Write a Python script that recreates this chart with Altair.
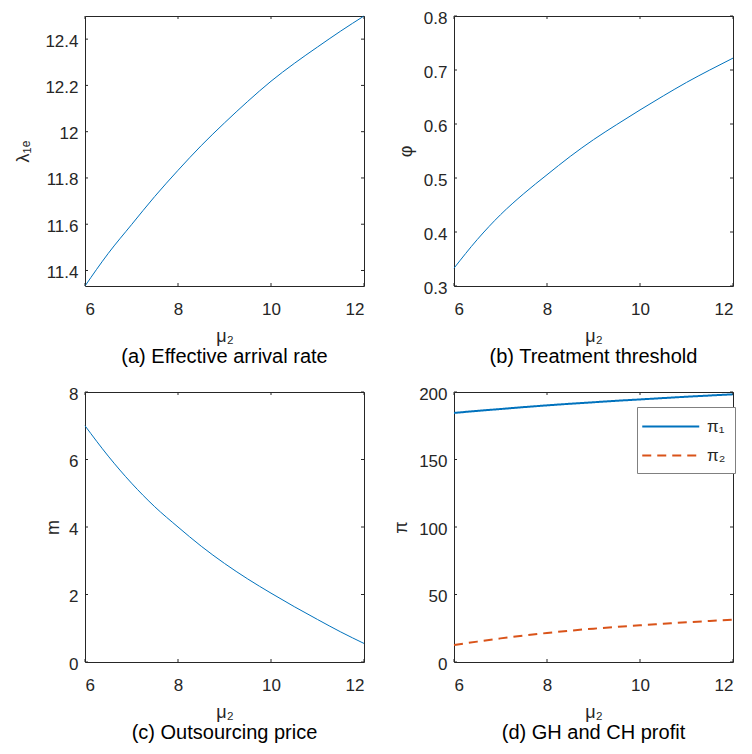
import altair as alt
import pandas as pd

# ---------------- data ----------------
mu2 = [6, 6.5, 7, 7.5, 8, 8.5, 9, 9.5, 10, 10.5, 11, 11.5, 12]
lambda_1e = [11.333, 11.474, 11.598, 11.72, 11.833, 11.94, 12.038, 12.131, 12.218, 12.295, 12.366, 12.435, 12.5]
phi = [0.333, 0.386, 0.432, 0.471, 0.506, 0.540, 0.571, 0.599, 0.626, 0.652, 0.677, 0.700, 0.722]
m_price = [7.0, 6.1, 5.3, 4.6, 4.0, 3.43, 2.92, 2.46, 2.04, 1.64, 1.26, 0.89, 0.55]
pi_1 = [184.5, 186.0, 187.4, 188.8, 190.1, 191.3, 192.4, 193.5, 194.5, 195.5, 196.5, 197.4, 198.3]
pi_2 = [12.5, 15.1, 17.5, 19.6, 21.5, 23.2, 24.7, 26.0, 27.2, 28.3, 29.4, 30.4, 31.3]
series_names = ["π₁", "π₂"]

x_ticks = [6, 8, 10, 12]
ticks_a = [11.4, 11.6, 11.8, 12.0, 12.2, 12.4]
ticks_b = [0.3, 0.4, 0.5, 0.6, 0.7, 0.8]
ticks_c = [0, 2, 4, 6, 8]
ticks_d = [0, 50, 100, 150, 200]

captions = ["(a) Effective arrival rate", "(b) Treatment threshold",
            "(c) Outsourcing price", "(d) GH and CH profit"]
y_titles = ["λ₁ₑ", "φ", "m", "π"]
x_title = "μ₂"

# ---------------- style ----------------
W, H = 279, 270
GAP_X, GAP_Y = 90, 106
BLUE = "#0072BD"
ORANGE = "#D95319"
AX = "#262626"
FONT = "Liberation Sans"
TICK_LEN = 3
FMT = "~r"

xscale = alt.Scale(domain=[6, 12], nice=False, zero=False)


def x_axis():
    return alt.Axis(values=x_ticks, title=x_title, format=FMT)


def y_axis(yticks, title, pad):
    return alt.Axis(values=yticks, title=title, format=FMT, titlePadding=pad)


def tick_layers(yticks, yscale, yax):
    xt = pd.DataFrame({"t": x_ticks})
    yt = pd.DataFrame({"t": yticks})
    rule = dict(color=AX, strokeWidth=1)
    bx = alt.Chart(xt).mark_rule(**rule).encode(
        x=alt.X("t:Q", scale=xscale, axis=x_axis()), y=alt.value(H), y2=alt.value(H - TICK_LEN))
    tx = alt.Chart(xt).mark_rule(**rule).encode(
        x=alt.X("t:Q", scale=xscale, axis=x_axis()), y=alt.value(0), y2=alt.value(TICK_LEN))
    ly = alt.Chart(yt).mark_rule(**rule).encode(
        y=alt.Y("t:Q", scale=yscale, axis=yax), x=alt.value(0), x2=alt.value(TICK_LEN))
    ry = alt.Chart(yt).mark_rule(**rule).encode(
        y=alt.Y("t:Q", scale=yscale, axis=yax), x=alt.value(W), x2=alt.value(W - TICK_LEN))
    return [bx, tx, ly, ry]


def caption(text):
    return alt.TitleParams(text, orient="bottom", anchor="middle", offset=2,
                           fontSize=20, font=FONT, color="#000000", fontWeight="normal")


def single_panel(values, ydomain, yticks, ytitle, cap, pad):
    df = pd.DataFrame({"mu2": mu2, "v": values})
    ys = alt.Scale(domain=ydomain, nice=False, zero=False)
    yax = y_axis(yticks, ytitle, pad)
    line = alt.Chart(df).mark_line(color=BLUE, strokeWidth=1, interpolate="monotone").encode(
        x=alt.X("mu2:Q", scale=xscale, axis=x_axis()),
        y=alt.Y("v:Q", scale=ys, axis=yax),
    )
    return alt.layer(line, *tick_layers(yticks, ys, yax)).properties(
        width=W, height=H, title=caption(cap))


pa = single_panel(lambda_1e, [11.333, 12.5], ticks_a, y_titles[0], captions[0], 12)
pb = single_panel(phi, [0.3, 0.8], ticks_b, y_titles[1], captions[1], 8)
pc = single_panel(m_price, [0, 8], ticks_c, y_titles[2], captions[2], 6)

# panel (d)
df_d = pd.DataFrame({
    "mu2": mu2 + mu2,
    "v": pi_1 + pi_2,
    "series": [series_names[0]] * len(mu2) + [series_names[1]] * len(mu2),
})
ys_d = alt.Scale(domain=[0, 200], nice=False, zero=False)
yax_d = y_axis(ticks_d, y_titles[3], 8)
leg = alt.Legend(title=None, orient="none", legendX=W + GAP_X + 183, legendY=H + GAP_Y + 15,
                 padding=9, strokeColor="#808080", fillColor="white", symbolType="M-1.5,0H4.5",
                 symbolSize=361, symbolStrokeWidth=2, labelFontSize=17, labelFont=FONT,
                 labelColor=AX, labelOffset=40, rowPadding=10, cornerRadius=0)
lines_d = alt.Chart(df_d).mark_line(strokeWidth=2, interpolate="monotone").encode(
    x=alt.X("mu2:Q", scale=xscale, axis=x_axis()),
    y=alt.Y("v:Q", scale=ys_d, axis=yax_d),
    color=alt.Color("series:N", scale=alt.Scale(domain=series_names, range=[BLUE, ORANGE]), legend=leg),
    strokeDash=alt.StrokeDash("series:N", scale=alt.Scale(domain=series_names, range=[[1, 0], [9, 6]]), legend=leg),
)
pd_ = alt.layer(lines_d, *tick_layers(ticks_d, ys_d, yax_d)).properties(
    width=W, height=H, title=caption(captions[3]))

chart = alt.concat(pa, pb, pc, pd_, columns=2, spacing={"row": GAP_Y, "column": GAP_X},
                   bounds="flush").configure(
    font=FONT, padding={"left": 6, "top": 0, "right": 0, "bottom": 0}
).configure_view(
    stroke=AX, strokeWidth=1
).configure_axis(
    domain=False, ticks=False, tickSize=0, grid=False,
    labelFont=FONT, labelFontSize=17, labelColor=AX,
    titleFont=FONT, titleFontSize=18, titleColor=AX, titleFontWeight="normal",
).configure_axisX(
    labelPadding=15, titlePadding=10,
).configure_axisY(
    labelPadding=7, labelOffset=2,
)

chart.save("out.html", embed_options={"renderer": "svg", "actions": False})
